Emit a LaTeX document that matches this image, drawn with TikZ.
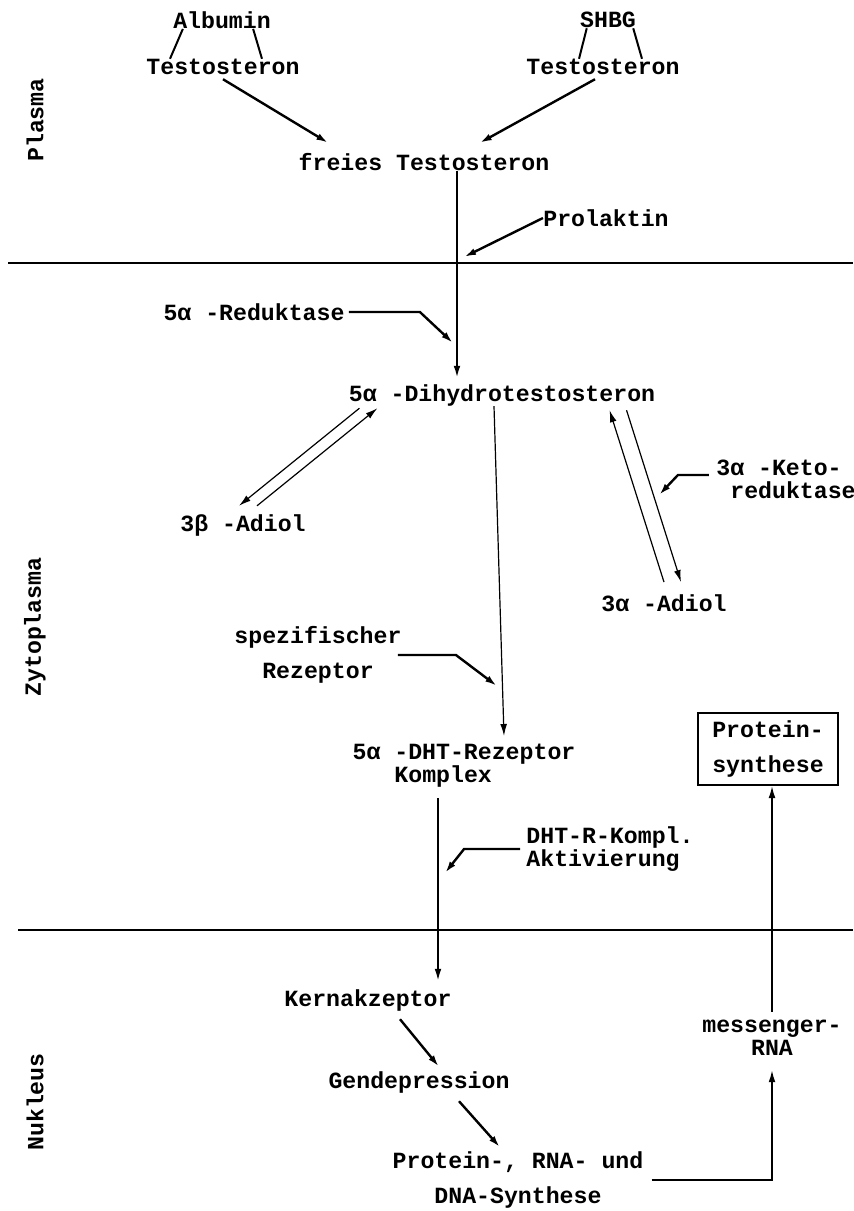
\documentclass[tikz,border=0pt]{standalone}
\usepackage{fontspec}
\setmainfont{Liberation Mono}
\usetikzlibrary{arrows.meta}

\begin{document}
\begin{tikzpicture}[x=.5pt,y=-.5pt,>={Latex[length=6pt,width=3.4pt]},
  every node/.style={inner sep=0pt,font=\fontsize{11.6}{11.5}\selectfont\bfseries},
  flow/.style={line width=1.2pt,->},
  hair/.style={line width=.6pt},
  bond/.style={line width=1pt},
  wall/.style={line width=1pt}]
 \useasboundingbox (0,0) rectangle (853,1211);
 % compartments
 \node[rotate=90] (plasma) at (35,120) {Plasma};
 \node[rotate=90] (zyto) at (35,627) {Zytoplasma};
 \node[rotate=90] (nukl) at (35,1102) {Nukleus};
 \coordinate (w1l) at (8,263); \coordinate (w1r) at (853,263);
 \coordinate (w2l) at (18,930); \coordinate (w2r) at (853,930);
 \draw[wall] (w1l) -- (w1r);
 \draw[wall] (w2l) -- (w2r);
 % plasma
 \node (alb) at (222,20) {Albumin};
 \node (tl) at (223,67) {Testosteron};
 \node (shbg) at (608,20) {SHBG};
 \node (tr) at (603,67) {Testosteron};
 \node (frei) at (424,162) {freies Testosteron};
 \node (prol) at (606,218) {Prolaktin};
 \draw[bond] ([xshift=5pt]alb.south west) -- ([xshift=12pt]tl.north west);
 \draw[bond] ([xshift=-9pt]alb.south east) -- ([xshift=-19pt]tl.north east);
 \draw[bond] ([xshift=3.5pt]shbg.south west) -- ([xshift=26.5pt]tr.north west);
 \draw[bond] ([xshift=-1.5pt]shbg.south east) -- ([xshift=-19pt]tr.north east);
 \draw[flow] ([yshift=-2pt]tl.south) -- ([xshift=15pt,yshift=5pt]frei.north west);
 \draw[flow] ([xshift=-4pt,yshift=-2pt]tr.south) -- ([xshift=-35pt,yshift=5pt]frei.north east);
 \coordinate (prol-in) at (464,257);
 \draw[flow] (prol.west) -- (prol-in);
 % zytoplasma
 \node (red) at (254,312) {5α -Reduktase};
 \node (dht) at (502,395) {5α -Dihydrotestosteron};
 \node (bad) at (243,525) {3β -Adiol};
 \node (aad) at (664,603) {3α -Adiol};
 \node[align=left] (keto) at (786,479) {3α -Keto-\\\hspace*{7pt}reduktase};
 \node[align=center] (spez) at (318,655) {spezifischer\\[6pt]Rezeptor};
 \node[align=left] (cplx) at (464,766) {5α -DHT-Rezeptor\\\hspace*{20.9pt}Komplex};
 \node[align=left] (akt) at (610,849) {DHT-R-Kompl.\\Aktivierung};
 \node[draw,line width=1pt,minimum width=70pt,minimum height=36pt,align=center] (box) at (768,749) {Protein-\\[6pt]synthese};
 \coordinate (ax) at (457,0);
 \draw[line width=1pt,->,shorten >=3pt] (frei.south -| ax) -- (dht.north -| ax);
 \coordinate (red-in) at (453,343);
 \draw[flow] ([xshift=2pt]red.east) -- ++(71,0) -- (red-in);
 \draw[hair,->] ([xshift=5.5pt,yshift=-1pt]dht.south west) -- ([xshift=-2pt,yshift=4pt]bad.north);
 \draw[hair,->] ([xshift=7pt,yshift=4pt]bad.north) -- ([xshift=14.5pt,yshift=-1pt]dht.south west);
 \draw[hair,->] ([yshift=6pt]aad.north) -- ([xshift=-23pt,yshift=-2pt]dht.south east);
 \draw[hair,->] ([xshift=-14.5pt,yshift=-2pt]dht.south east) -- ([xshift=8.5pt,yshift=6pt]aad.north);
 \coordinate (keto-in) at (659,495);
 \draw[flow] ([xshift=-3.5pt,yshift=2pt]keto.west) -- ++(-31,0) -- (keto-in);
 \coordinate (spez-in) at (497,686);
 \draw[flow] ([xshift=-2pt]spez.east) -- ++(58,0) -- (spez-in);
 \draw[hair,->] ([xshift=-4pt]dht.south) -- ([xshift=20pt,yshift=4pt]cplx.north);
 \coordinate (akt-in) at (445,873);
 \draw[flow] ([xshift=-3pt]akt.west) -- ++(-56,0) -- (akt-in);
 % nukleus
 \node (kern) at (368,1000) {Kernakzeptor};
 \node (gen) at (419,1082) {Gendepression};
 \node[align=center] (prot) at (518,1180) {Protein-, RNA- und\\[6pt]DNA-Synthese};
 \node[align=center] (mrna) at (772,1038) {messenger-\\RNA};
 \coordinate (kx) at (438,0);
 \draw[line width=.9pt,->,shorten <=5pt,shorten >=4pt] (cplx.south -| kx) -- (kern.north -| kx);
 \draw[flow] ([xshift=16pt,yshift=-4pt]kern.south) -- ([xshift=10pt,yshift=2pt]gen.north);
 \draw[flow] ([xshift=20pt,yshift=-4pt]gen.south) -- ([xshift=-9pt,yshift=2pt]prot.north);
 \draw[line width=.8pt,->] ([xshift=4pt]prot.east) -| ([yshift=-7pt]mrna.south);
 \draw[line width=.8pt,->] ([yshift=4pt]mrna.north) -- (mrna.north |- box.south);
\end{tikzpicture}
\end{document}
